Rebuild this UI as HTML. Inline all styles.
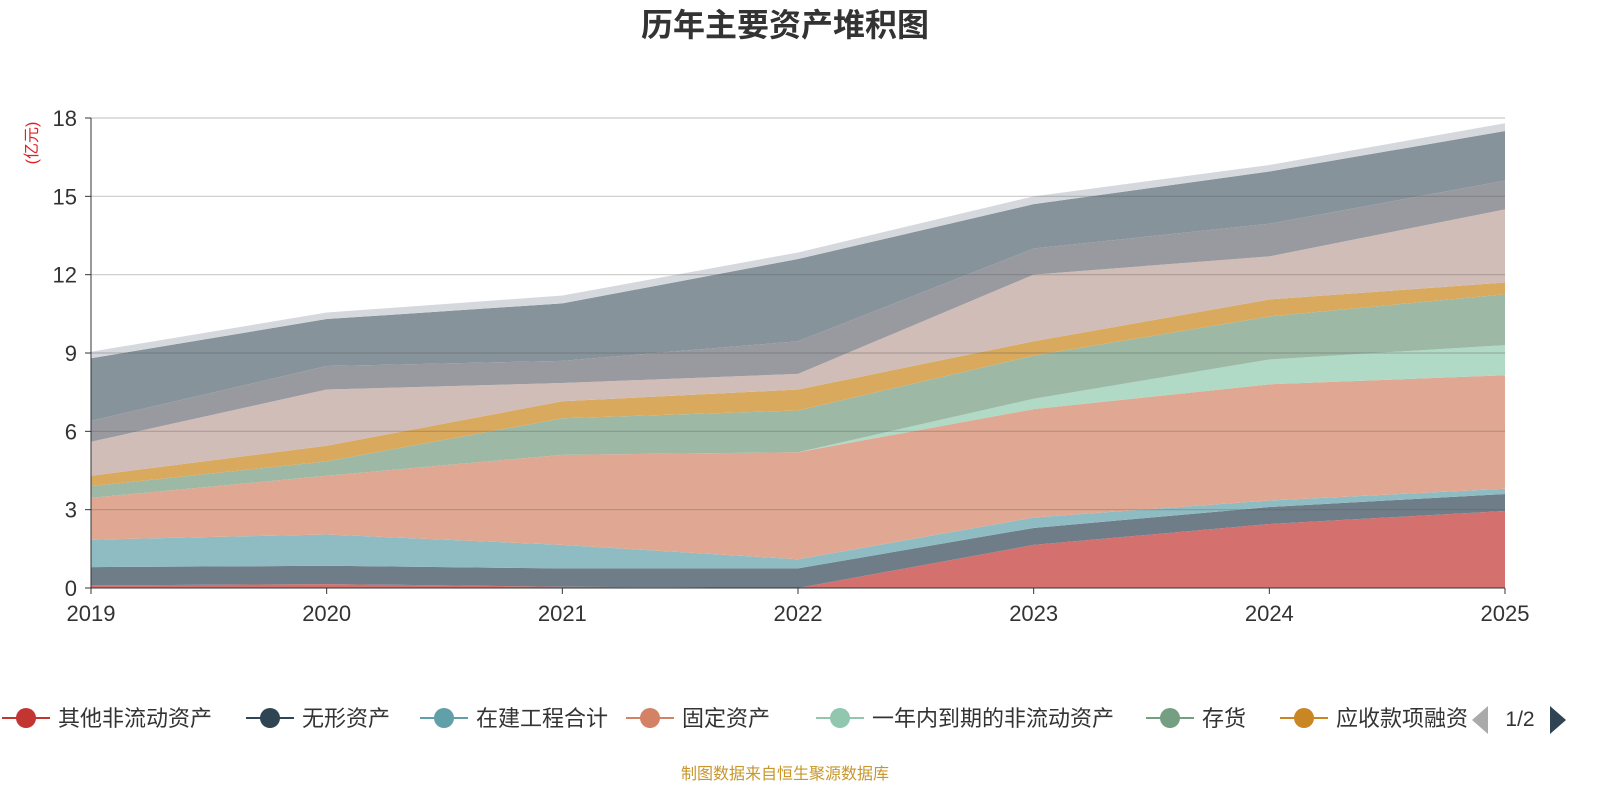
<!DOCTYPE html>
<html><head><meta charset="utf-8"><style>
body{margin:0;background:#fff;font-family:"Liberation Sans","Noto Sans CJK SC",sans-serif;}
svg text{font-family:"Liberation Sans","Noto Sans CJK SC",sans-serif;}
</style></head><body>
<svg id="chart" width="1600" height="800" xmlns="http://www.w3.org/2000/svg">
<text x="785" y="36" text-anchor="middle" font-size="32" font-weight="bold" fill="#333">历年主要资产堆积图</text>
<text transform="translate(37,143) rotate(-90)" text-anchor="middle" font-size="16" fill="#e02020">(亿元)</text>
<g id="areas"></g><g id="grid"></g><g id="axes"></g><g id="legend"></g>
<text x="785" y="779" text-anchor="middle" font-size="16" fill="#c8962a">制图数据来自恒生聚源数据库</text>
</svg>
<script>
const years=["2019","2020","2021","2022","2023","2024","2025"];
const yTicks=[0,3,6,9,12,15,18];
const s1=[0.1,0.15,0.05,0,1.65,2.45,2.95];
const s2=[0.7,0.7,0.7,0.75,0.65,0.65,0.65];
const s3=[1.05,1.2,0.9,0.35,0.4,0.25,0.2];
const s4=[1.6,2.25,3.45,4.1,4.15,4.45,4.35];
const s5=[0,0,0,0,0.4,0.95,1.15];
const s6=[0.45,0.55,1.4,1.6,1.65,1.65,1.95];
const s7=[0.4,0.6,0.65,0.8,0.55,0.65,0.45];
const s8=[1.3,2.15,0.7,0.6,2.55,1.65,2.8];
const s9=[0.8,0.9,0.85,1.25,1.0,1.25,1.1];
const s10=[2.4,1.8,2.2,3.15,1.7,2.0,1.9];
const s11=[0.25,0.25,0.3,0.25,0.3,0.25,0.3];
const series=[s1,s2,s3,s4,s5,s6,s7,s8,s9,s10,s11];
const fills=["#d4716f","#6e7d88","#8fbcc2","#e0a892","#b0d9c6","#9db9a6","#d9a95e","#d1bdb8","#999a9f","#87939b","#d5d9de"];
const names=["其他非流动资产","无形资产","在建工程合计","固定资产","一年内到期的非流动资产","存货","应收款项融资"];
const lcolors=["#c23531","#2f4554","#61a0a8","#d48265","#91c7ae","#749f83","#ca8622"];
const NS="http://www.w3.org/2000/svg";
const X0=91,X1=1505,Y0=588,Y1=118;
const xs=i=>X0+(X1-X0)*i/(years.length-1);
const ys=v=>Y0-(Y0-Y1)*v/18;
function mk(t,a,p){const e=document.createElementNS(NS,t);for(const k in a)e.setAttribute(k,a[k]);p.appendChild(e);return e;}
const areas=document.getElementById('areas');
let base=years.map(()=>0);
series.forEach((s,k)=>{
  const top=base.map((b,i)=>b+s[i]);
  let d="M"+years.map((_,i)=>xs(i)+","+ys(top[i])).join(" L");
  for(let i=years.length-1;i>=0;i--)d+=" L"+xs(i)+","+ys(base[i]);
  const p=mk('path',{d:d+"Z",fill:fills[k]},areas);
  
  
  base=top;
});
const grid=document.getElementById('grid'),axes=document.getElementById('axes');
yTicks.forEach(v=>{
  if(v>0){const l=mk('line',{x1:X0,x2:X1,y1:ys(v),y2:ys(v),stroke:"rgba(80,80,80,0.3)","stroke-width":1.2},grid);
  }
  mk('line',{x1:X0-6,x2:X0,y1:ys(v),y2:ys(v),stroke:"#333"},axes);
  const t=mk('text',{x:X0-14,y:ys(v)+8,"text-anchor":"end","font-size":22,fill:"#333"},axes);
  t.textContent=v;
});
mk('line',{x1:X0,x2:X0,y1:Y1,y2:Y0,stroke:"#333"},axes);
mk('line',{x1:X0,x2:X1,y1:Y0,y2:Y0,stroke:"#333"},axes);
years.forEach((y,i)=>{
  mk('line',{x1:xs(i),x2:xs(i),y1:Y0,y2:Y0+6,stroke:"#333"},axes);
  const t=mk('text',{x:xs(i),y:621,"text-anchor":"middle","font-size":22,fill:"#333"},axes);
  t.textContent=y;
});
const lg=document.getElementById('legend');
const lx=[0,244,418,624,814,1144,1278];
names.forEach((n,i)=>{
  const g=mk('g',{},lg);
  
  mk('line',{x1:lx[i]+2,x2:lx[i]+50,y1:718,y2:718,stroke:lcolors[i],"stroke-width":2},g);
  mk('circle',{cx:lx[i]+26,cy:718,r:10,fill:lcolors[i]},g);
  const t=mk('text',{x:lx[i]+58,y:726,"font-size":22,fill:"#333"},g);t.textContent=n;
});
const pl=mk('path',{d:"M1472,720 L1488,706 L1488,734Z",fill:"#aaa"},lg);

const pt=mk('text',{x:1520,y:726,"text-anchor":"middle","font-size":21,fill:"#333"},lg);pt.textContent="1/2";

const pn=mk('path',{d:"M1550,706 L1566,720 L1550,734Z",fill:"#2f4554"},lg);

</script>
</body></html>
